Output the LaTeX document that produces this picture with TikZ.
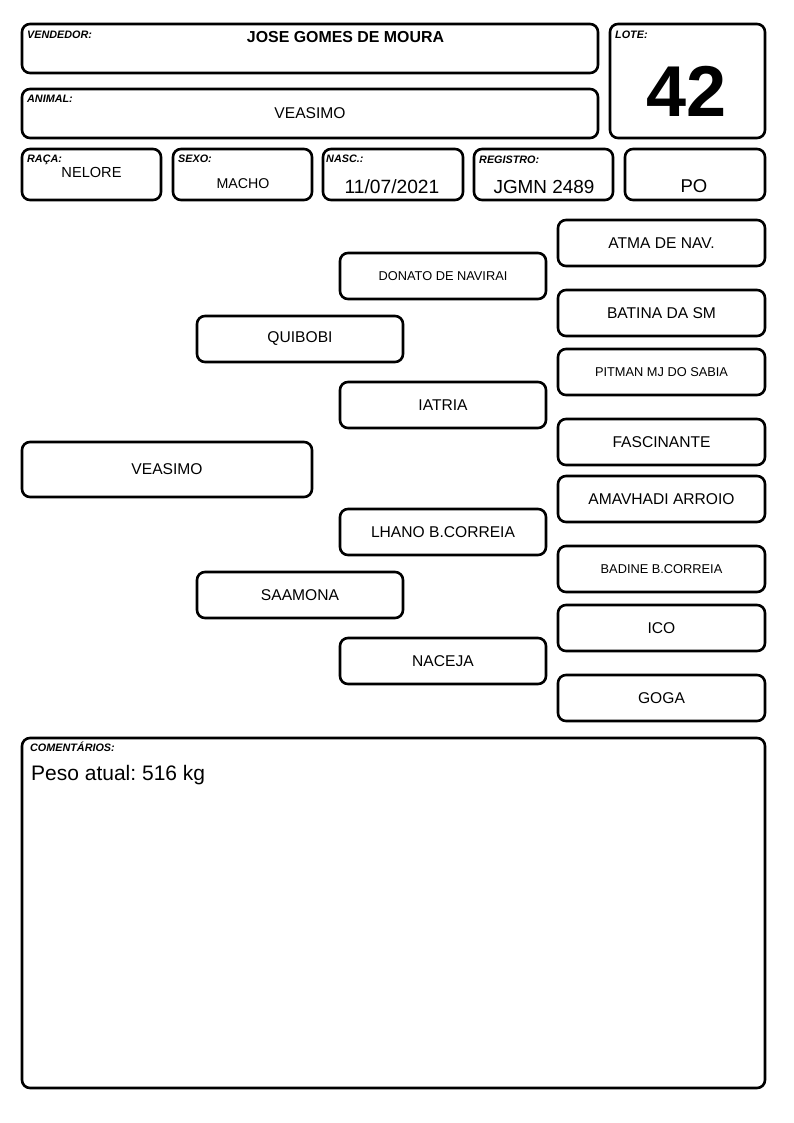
\documentclass[tikz,border=0pt]{standalone}
\usepackage{fontspec}
\setmainfont{Liberation Sans}
\frenchspacing
\begin{document}
\begin{tikzpicture}[x=1pt,y=-1pt,
  box/.style={draw=black, line width=2.6pt, rounded corners=8pt, inner sep=0pt, outer sep=0pt, fill=white},
  lbl/.style={anchor=base west, inner sep=0pt, font=\fontsize{10.8}{12}\selectfont\bfseries\itshape},
  val/.style={anchor=base, inner sep=0pt},
  big/.style={font=\fontsize{15.6}{18}\selectfont},
  small/.style={font=\fontsize{12.8}{15}\selectfont}]
\useasboundingbox[fill=white] (0,0) rectangle (794,1123);
% header boxes
\node[box, minimum width=576pt, minimum height=49pt] (vend) at (310,48.5) {};
\node[box, minimum width=576pt, minimum height=49pt] (anim) at (310,113.5) {};
\node[box, minimum width=155pt, minimum height=114pt] (lote) at (687.5,81) {};
\node[box, minimum width=139pt, minimum height=51pt] (raca) at (91.5,174.5) {};
\node[box, minimum width=139pt, minimum height=51pt] (sexo) at (242.5,174.5) {};
\node[box, minimum width=140pt, minimum height=51pt] (nasc) at (393,174.5) {};
\node[box, minimum width=139pt, minimum height=51pt] (reg) at (543.5,174.5) {};
\node[box, minimum width=140pt, minimum height=51pt] (po) at (695,174.5) {};
% labels
\node[lbl] (lvend) at (27,39) {VENDEDOR:};
\node[lbl] (lanim) at (27,103) {ANIMAL:};
\node[lbl] (llote) at (615,39) {LOTE:};
\node[lbl] (lraca) at (27,163) {RAÇA:};
\node[lbl] (lsexo) at (178,163) {SEXO:};
\node[lbl] (lnasc) at (326,163) {NASC.:};
\node[lbl] (lreg) at (479,164) {REGISTRO:};
% values
\node[val, font=\fontsize{15.9}{18}\selectfont\bfseries] (tvend) at (345.5,43) {JOSE GOMES DE MOURA};
\node[val, font=\fontsize{15.6}{18}\selectfont] (tanim) at (310,119) {VEASIMO};
\node[val, font=\fontsize{72}{80}\selectfont\bfseries] (tlote) at (687,117) {42};
\node[val, font=\fontsize{14.6}{17}\selectfont] (traca) at (91.5,178) {NELORE};
\node[val, font=\fontsize{14.2}{17}\selectfont] (tsexo) at (243,189) {MACHO};
\node[val, font=\fontsize{19.2}{22}\selectfont] (tnasc) at (392,194) {11/07/2021};
\node[val, font=\fontsize{18.9}{22}\selectfont] (treg) at (544,194) {JGMN 2489};
\node[val, font=\fontsize{18.5}{22}\selectfont] (tpo) at (694,193) {PO};
% pedigree
\node[box, big, minimum width=290pt, minimum height=55pt] (p0) at (167,469.5) {VEASIMO};
\node[box, big, minimum width=206pt, minimum height=46pt] (p1) at (300,339) {QUIBOBI};
\node[box, big, minimum width=206pt, minimum height=46pt] (p2) at (300,595) {SAAMONA};
\node[box, small, minimum width=206pt, minimum height=46pt] (p3) at (443,276) {DONATO DE NAVIRAI};
\node[box, big, minimum width=206pt, minimum height=46pt] (p4) at (443,405) {IATRIA};
\node[box, big, minimum width=206pt, minimum height=46pt] (p5) at (443,532) {LHANO B.CORREIA};
\node[box, big, minimum width=206pt, minimum height=46pt] (p6) at (443,661) {NACEJA};
\node[box, big, minimum width=207pt, minimum height=46pt] (p7) at (661.5,243) {ATMA DE NAV.};
\node[box, big, minimum width=207pt, minimum height=46pt] (p8) at (661.5,313) {BATINA DA SM};
\node[box, small, minimum width=207pt, minimum height=46pt] (p9) at (661.5,372) {PITMAN MJ DO SABIA};
\node[box, big, minimum width=207pt, minimum height=46pt] (p10) at (661.5,442) {FASCINANTE};
\node[box, big, minimum width=207pt, minimum height=46pt] (p11) at (661.5,499) {AMAVHADI ARROIO};
\node[box, small, minimum width=207pt, minimum height=46pt] (p12) at (661.5,569) {BADINE B.CORREIA};
\node[box, big, minimum width=207pt, minimum height=46pt] (p13) at (661.5,628) {ICO};
\node[box, big, minimum width=207pt, minimum height=46pt] (p14) at (661.5,698) {GOGA};
% comments
\node[box, minimum width=743pt, minimum height=350pt] (com) at (393.5,913) {};
\node[lbl] (lcom) at (30,751) {COMENTÁRIOS:};
\node[anchor=base west, inner sep=0pt, font=\fontsize{21}{24}\selectfont] (tcom) at (31,780) {Peso atual: 516 kg};
\end{tikzpicture}
\end{document}
